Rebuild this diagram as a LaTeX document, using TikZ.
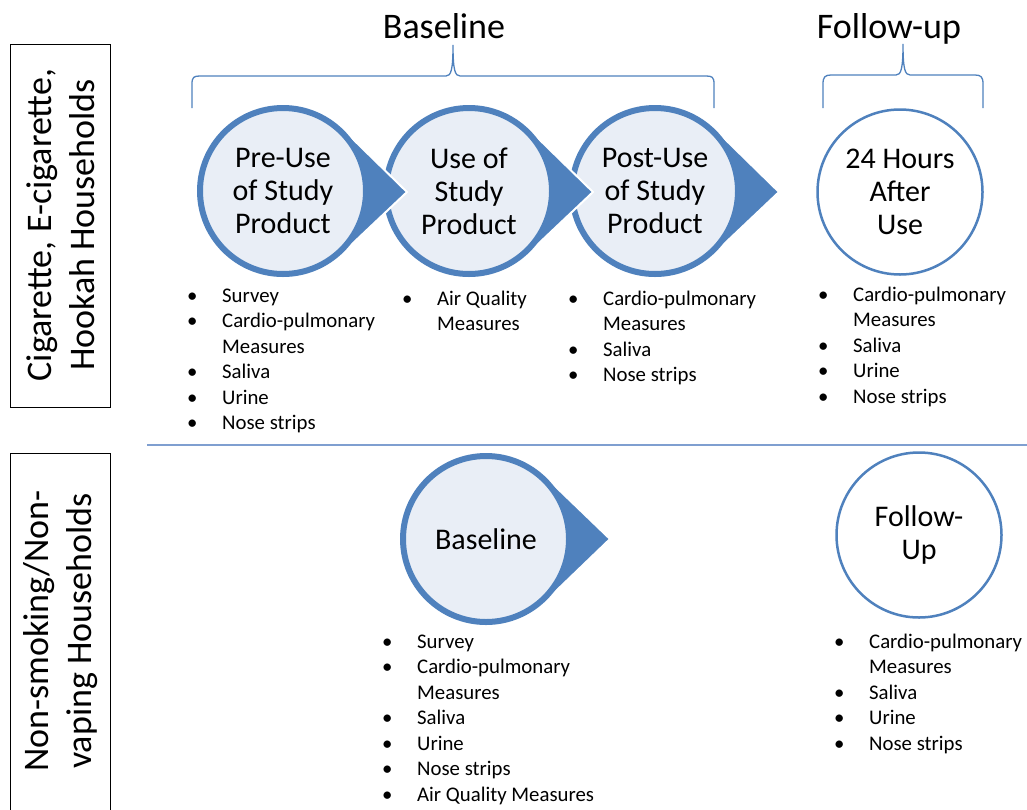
\documentclass[tikz,border=0pt]{standalone}
\usepackage{fontspec}
\setmainfont{Carlito}
\usetikzlibrary{calc}
\definecolor{oblue}{HTML}{4F81BD}
\definecolor{olight}{HTML}{E9EEF6}
\definecolor{divblue}{HTML}{7F9FD0}
\tikzset{
  stagecircle/.style={circle, draw=oblue, fill=olight, line width=6pt, minimum size=166pt, inner sep=0pt, align=center, font=\fontsize{30}{33}\selectfont},
  plaincircle/.style={circle, draw=oblue, fill=white, line width=2.5pt, minimum size=165pt, inner sep=0pt, align=center, font=\fontsize{30}{33}\selectfont},
  bulletlist/.style={anchor=north west, inner sep=0pt, align=left, font=\fontsize{20.8}{25.5}\selectfont},
  header/.style={anchor=base, inner sep=0pt, font=\fontsize{36}{43}\selectfont},
  sidebox/.style={draw=black, line width=1pt},
  sidetext/.style={rotate=90, align=center, inner sep=0pt, font=\fontsize{36}{43}\selectfont},
  bracepath/.style={draw=oblue, line width=1.3pt},
  divider/.style={draw=divblue, line width=2pt},
}
\newcommand{\tipshape}[2]{%
  \fill[oblue] (#1) -- ($(#1)+(46:86)$) -- (#2) -- ($(#1)+(-46:86)$) -- cycle;
  \draw[white, line width=2pt, line join=miter] ($(#1)+(46:86)$) -- (#2) -- ($(#1)+(-46:86)$);
}
\newcommand{\bi}[1]{\makebox[35pt][l]{\textbullet}#1}
\newcommand{\bc}[1]{\hspace*{35pt}#1}
\newcommand{\fl}{\rule{0pt}{20pt}}
\begin{document}
\begin{tikzpicture}[x=1pt,y=-1pt]
\useasboundingbox (0,0) rectangle (1027,809);

% headers
\node[header] (hbase) at (444,38) {Baseline};
\node[header] (hfollow) at (889,38) {Follow-up};

% braces
\draw[bracepath] (192,108) -- (192,84) .. controls (192,77) and (194,76) .. (200,76)
  -- (446,76) .. controls (451,76) and (453,70) .. (453,45)
  .. controls (453,70) and (455,76) .. (460,76) -- (706,76)
  .. controls (712,76) and (714,77) .. (714,84) -- (714,108);
\draw[bracepath] (823,108) -- (823,84) .. controls (823,77) and (825,75) .. (831,75)
  -- (896,75) .. controls (901,75) and (903,69) .. (903,44)
  .. controls (903,69) and (905,75) .. (910,75) -- (975,75)
  .. controls (981,75) and (983,77) .. (983,84) -- (983,108);

% side boxes
\draw[sidebox] (10,44) rectangle (110,407);
\node[sidetext] (side1) at (61,225) {Cigarette, E-cigarette,\\Hookah Households};
\draw[sidebox] (10,812) -- (10,453) -- (110,453) -- (110,812);
\node[sidetext] (side2) at (61,631) {Non-smoking/Non-\\vaping Households};

% divider
\coordinate (dl) at (147,445);
\coordinate (dr) at (1027,445);
\draw[divider] (dl) -- (dr);

% top row stages (drawn right to left)
\coordinate (c3) at (655,191); \coordinate (t3) at (779,192);
\coordinate (c2) at (469,191); \coordinate (t2) at (593,192);
\coordinate (c1) at (283,191); \coordinate (t1) at (407,192);
\tipshape{c3}{t3}
\node[stagecircle] (post) at (c3) {Post-Use\\of Study\\Product};
\tipshape{c2}{t2}
\node[stagecircle] (use) at (c2) {Use of\\Study\\Product};
\tipshape{c1}{t1}
\node[stagecircle] (pre) at (c1) {Pre-Use\\of Study\\Product};
\node[plaincircle] (after) at (900,192) {24 Hours\\After\\Use};

% bottom row
\coordinate (c4) at (486,539); \coordinate (t4) at (610,539);
\tipshape{c4}{t4}
\node[stagecircle] (base) at (c4) {Baseline};
\node[plaincircle] (fu) at (919,535) {Follow-\\Up};

% bullet lists
\node[bulletlist] (l1) at (187,282) {\fl\bi{Survey}\\\bi{Cardio-pulmonary}\\\bc{Measures}\\\bi{Saliva}\\\bi{Urine}\\\bi{Nose strips}};
\node[bulletlist] (l2) at (402,285) {\fl\bi{Air Quality}\\\bc{Measures}};
\node[bulletlist] (l3) at (568,285) {\fl\bi{Cardio-pulmonary}\\\bc{Measures}\\\bi{Saliva}\\\bi{Nose strips}};
\node[bulletlist] (l4) at (818,281) {\fl\bi{Cardio-pulmonary}\\\bc{Measures}\\\bi{Saliva}\\\bi{Urine}\\\bi{Nose strips}};
\node[bulletlist] (l5) at (382,628) {\fl\bi{Survey}\\\bi{Cardio-pulmonary}\\\bc{Measures}\\\bi{Saliva}\\\bi{Urine}\\\bi{Nose strips}\\\bi{Air Quality Measures}};
\node[bulletlist] (l6) at (834,628) {\fl\bi{Cardio-pulmonary}\\\bc{Measures}\\\bi{Saliva}\\\bi{Urine}\\\bi{Nose strips}};
\end{tikzpicture}
\end{document}
